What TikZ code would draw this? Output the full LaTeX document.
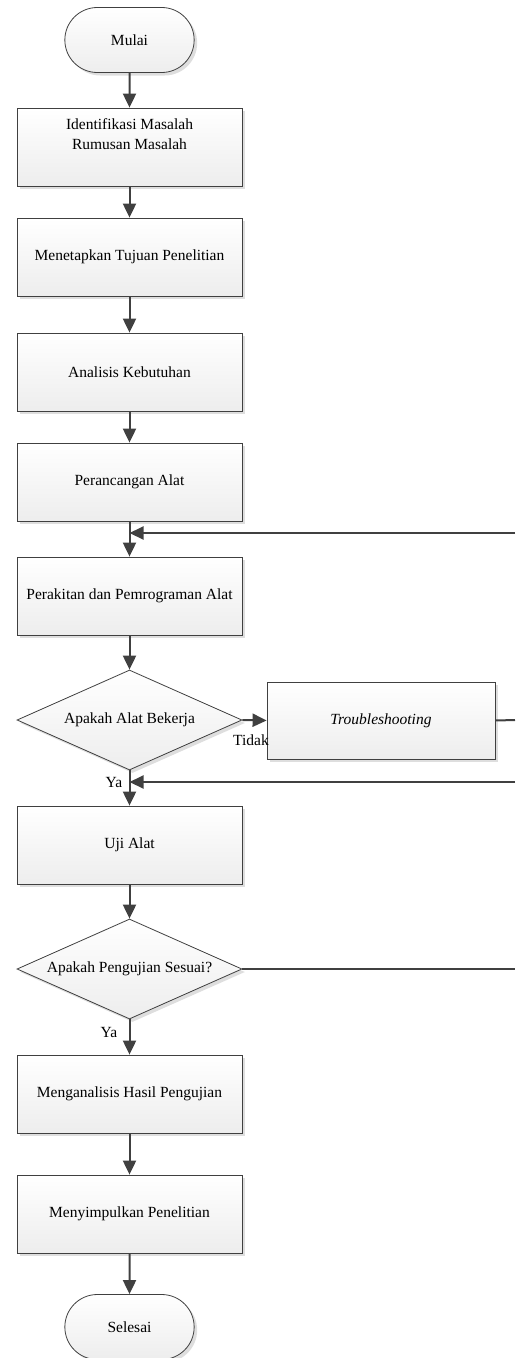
\documentclass[tikz,border=0pt]{standalone}
\usepackage{fontspec}
\setmainfont{Liberation Serif}
\usepackage{xcolor}
\usetikzlibrary{shapes.geometric, shapes.misc, shadows, arrows.meta, positioning, calc}
\definecolor{lineGrey}{rgb}{0.25, 0.25, 0.25}
\definecolor{boxGrey}{rgb}{0.93, 0.93, 0.93}
\definecolor{shadowGrey}{rgb}{0.87, 0.87, 0.87}

\begin{document}
\begin{tikzpicture}[x=1pt, y=-1pt, every node/.style={font=\fontsize{15.5}{20}\selectfont}]
			\tikzstyle{flowbox}=[rectangle, draw=lineGrey, line width=0.8pt, minimum width=225pt, minimum height=78pt, align=center, top color=white, bottom color=boxGrey, drop shadow={shadow xshift=3pt, shadow yshift=-3pt, fill=shadowGrey, opacity=1}]
			\tikzstyle{terminal}=[rounded rectangle, draw=lineGrey, line width=0.8pt, minimum width=136pt, minimum height=65pt, top color=white, bottom color=boxGrey, drop shadow={shadow xshift=3pt, shadow yshift=-3pt, fill=shadowGrey, opacity=1}]
			\tikzstyle{decision}=[diamond, draw=lineGrey, line width=0.8pt, aspect=2.25, minimum width=225pt, minimum height=100pt, inner sep=0pt, top color=white, bottom color=boxGrey, drop shadow={shadow xshift=3pt, shadow yshift=-3pt, fill=shadowGrey, opacity=1}]
			\tikzstyle{flowarrow}=[draw=lineGrey, line width=2pt, -{Triangle[length=14pt, width=13pt]}]
			\tikzstyle{flowline}=[draw=lineGrey, line width=2pt]
			%%
			\useasboundingbox (0,0) rectangle (515,1358);
			%%
			\node (mulai) at (129.5,40) [terminal] {Mulai};
			\node (identifikasi) at (129.5,147) [flowbox] {Identifikasi Masalah\\Rumusan Masalah\\\strut};
			\node (tujuan) at (129.5,257) [flowbox] {Menetapkan Tujuan Penelitian};
			\node (analisis) at (129.5,372) [flowbox] {Analisis Kebutuhan};
			\node (perancangan) at (129.5,482) [flowbox] {Perancangan Alat};
			\node (perakitan) at (129.5,596) [flowbox] {Perakitan dan Pemrograman Alat};
			\node (bekerja) at (129.5,720) [decision] {Apakah Alat Bekerja};
			\node (trouble) at (381,720.5) [flowbox, minimum width=228pt, minimum height=77pt] {\itshape Troubleshooting};
			\node (uji) at (129.5,845) [flowbox] {Uji Alat};
			\node (sesuai) at (129.5,969) [decision] {Apakah Pengujian Sesuai?};
			\node (hasil) at (129.5,1094) [flowbox] {Menganalisis Hasil Pengujian};
			\node (simpulan) at (129.5,1214) [flowbox] {Menyimpulkan Penelitian};
			\node (selesai) at (129.5,1327) [terminal] {Selesai};
			
			\coordinate (fb1) at (515,533);
			\coordinate (fb2) at (515,782);
			\coordinate (tr) at (515,720);
			\coordinate (ss) at (515,969);
			\coordinate (j1) at (perakitan.north |- fb1);
			\coordinate (j2) at (uji.north |- fb2);
			
			\draw [flowarrow] (mulai) -- (identifikasi);
			\draw [flowarrow] (identifikasi) -- (tujuan);
			\draw [flowarrow] (tujuan) -- (analisis);
			\draw [flowarrow] (analisis) -- (perancangan);
			\draw [flowarrow] (perancangan) -- (perakitan);
			\draw [flowarrow] (perakitan) -- (bekerja);
			\draw [flowarrow] (bekerja.east) -- (trouble.west);
			\draw [flowline] (trouble.east) -- (tr);
			\draw [flowarrow] (bekerja.south) -- (uji.north);
			\draw [flowarrow] (uji) -- (sesuai);
			\draw [flowline] (sesuai.east) -- (ss);
			\draw [flowarrow] (sesuai.south) -- (hasil.north);
			\draw [flowarrow] (hasil) -- (simpulan);
			\draw [flowarrow] (simpulan) -- (selesai);
			
			\draw [flowarrow] (fb1) -- (j1);
			\draw [flowarrow] (fb2) -- (j2);
			
			\node (ltidak) at (251,740) {Tidak};
			\node (lya1) at (114,782) {Ya};
			\node (lya2) at (109,1032) {Ya};
			\end{tikzpicture}
\end{document}
